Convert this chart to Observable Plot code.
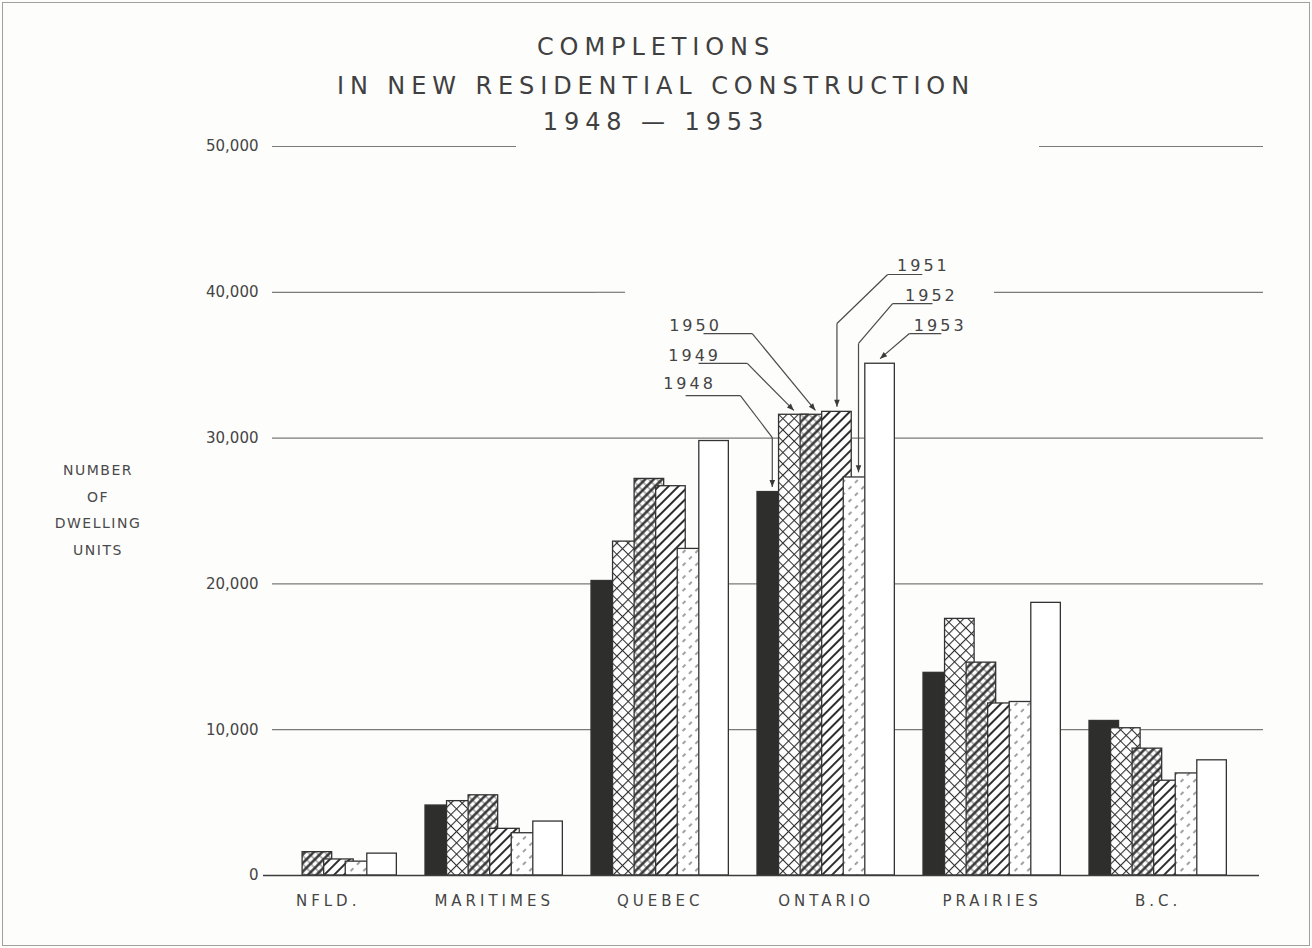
<!DOCTYPE html>
<html>
<head>
<meta charset="utf-8">
<script src="https://cdn.jsdelivr.net/npm/d3@7"></script>
<script src="https://cdn.jsdelivr.net/npm/@observablehq/plot@0.6"></script>
<style>
  body { margin: 0; background: #fff; }
  #wrap { position: relative; width: 1312px; height: 948px; background: #fdfdfc; overflow: hidden;
          font-family: "DejaVu Sans", sans-serif; color: #454545; }
  #frame { position: absolute; left: 2px; top: 2px; right: 2px; bottom: 2px; border: 1.5px solid #a0a0a0; pointer-events: none; }
  .tline { position: absolute; left: 0; width: 1312px; text-align: center; font-size: 24px; letter-spacing: 5.9px; line-height: 28px; color: #404040; }
  #ylab { position: absolute; left: 18px; width: 160px; top: 457px; text-align: center; font-size: 14px; letter-spacing: 1.5px; line-height: 26.5px; color: #4a4a4a; }
  #chart { position: absolute; left: 0; top: 135px; }
</style>
</head>
<body>
<div id="wrap">
  <svg width="0" height="0" style="position:absolute">
    <defs>
      <pattern id="p1949" patternUnits="userSpaceOnUse" width="8" height="8" patternTransform="rotate(45)">
        <rect width="8" height="8" fill="#fff"/>
        <path d="M0 0V8M0 0H8" stroke="#2e2e2e" stroke-width="2.2"/>
      </pattern>
      <pattern id="p1950" patternUnits="userSpaceOnUse" width="6" height="6" patternTransform="rotate(45)">
        <rect width="6" height="6" fill="#fff"/>
        <path d="M1.5 0V6" stroke="#2e2e2e" stroke-width="2.4"/>
        <path d="M0 3H6" stroke="#2e2e2e" stroke-width="0.7"/>
      </pattern>
      <pattern id="p1951" patternUnits="userSpaceOnUse" width="7" height="7" patternTransform="rotate(45)">
        <rect width="7" height="7" fill="#fff"/>
        <path d="M2 0V7" stroke="#2e2e2e" stroke-width="2"/>
      </pattern>
      <pattern id="p1952" patternUnits="userSpaceOnUse" width="9" height="9" patternTransform="rotate(45)">
        <rect width="9" height="9" fill="#fff"/>
        <path d="M2 0V4" stroke="#555" stroke-width="1.1"/>
      </pattern>
      <marker id="tri" viewBox="0 0 10 10" refX="10" refY="5" markerWidth="8" markerHeight="7" markerUnits="userSpaceOnUse" orient="auto">
        <path d="M0,1L10,5L0,9z" fill="#3a3a3a"/>
      </marker>
    </defs>
  </svg>
  <div class="tline" style="top:33px">COMPLETIONS</div>
  <div class="tline" style="top:72px">IN NEW RESIDENTIAL CONSTRUCTION</div>
  <div class="tline" style="top:108px">1948 — 1953</div>
  <div id="chart"></div>
  <div id="ylab">NUMBER<br>OF<br>DWELLING<br>UNITS</div>
  <div id="frame"></div>
</div>
<script>
// ---- data ----
const years = [1948, 1949, 1950, 1951, 1952, 1953];
const regions = ["NFLD.", "MARITIMES", "QUEBEC", "ONTARIO", "PRAIRIES", "B.C."];
const nfld      = [null, null, 1600, 1100, 950, 1500];
const maritimes = [4800, 5100, 5500, 3200, 2900, 3700];
const quebec    = [20200, 22900, 27200, 26700, 22400, 29800];
const ontario   = [26300, 31600, 31600, 31800, 27300, 35100];
const prairies  = [13900, 17600, 14600, 11800, 11900, 18700];
const bc        = [10600, 10100, 8700, 6500, 7000, 7900];
const yTicks = [0, 10000, 20000, 30000, 40000, 50000];

// ---- styles per year ----
const fills = ["#2e2f2c", "url(#p1949)", "url(#p1950)", "url(#p1951)", "url(#p1952)", "#ffffff"];

const series = [nfld, maritimes, quebec, ontario, prairies, bc];
const table = regions.flatMap((r, i) => years.map((y, j) => ({region: r, year: y, value: series[i][j]})))
  .filter(d => d.value != null);

// ---- callout layout (data units, Ontario group) ----
const callouts = [
  {year: 1948, label: [1944.66, 33740], path: [[1944.48, 32920], [1947.02, 32920], [1948.5, 30040], [1948.5, 26650]]},
  {year: 1949, label: [1944.90, 35670], path: [[1945.08, 35120], [1947.34, 35120], [1949.5, 31900]]},
  {year: 1950, label: [1944.94, 37720], path: [[1945.31, 37170], [1947.57, 37170], [1950.5, 31900]]},
  {year: 1951, label: [1955.51, 41840], path: [[1955.46, 41220], [1953.85, 41220], [1951.5, 37860], [1951.5, 32150]]},
  {year: 1952, label: [1955.88, 39780], path: [[1955.93, 39230], [1954.08, 39230], [1952.5, 36490], [1952.5, 27650]]},
  {year: 1953, label: [1956.29, 37720], path: [[1956.34, 37170], [1954.86, 37170], [1953.5, 35450]]}
];
const segs = callouts.flatMap(c => c.path.slice(1).map((p, k) => ({
  region: "ONTARIO", x1: c.path[k][0], y1: c.path[k][1], x2: p[0], y2: p[1], last: k === c.path.length - 2
})));
const labelRows = callouts.map(c => ({region: "ONTARIO", x: c.label[0], y: c.label[1], text: String(c.year)}));
const regionRows = regions.map(r => ({region: r, x: 1951, y: 0}));

const gridStroke = "#7a7a7a";
const grid = (region, vals, opts = {}) =>
  Plot.ruleY(vals.map(v => ({region, v})), {fx: "region", y: "v", stroke: gridStroke, strokeWidth: 1.2, ...opts});

const chart = Plot.plot({
  width: 1312,
  height: 800,
  marginLeft: 261,
  marginRight: 51,
  marginTop: 11,
  marginBottom: 60,
  style: {fontFamily: "'DejaVu Sans', sans-serif", fontSize: "15px", color: "#454545", background: "transparent"},
  fx: {domain: regions, padding: 0, axis: null},
  x: {domain: [1948, 1955.7], axis: null},
  y: {domain: [0, 50000], ticks: yTicks, tickFormat: d3.format(","), tickSize: 0, tickPadding: 5, label: null},
  color: {type: "ordinal", domain: years, range: fills},
  marks: [
    grid("NFLD.", [10000, 20000, 30000, 40000, 50000], {insetLeft: 9}),
    grid("MARITIMES", [10000, 20000, 30000, 40000]),
    grid("MARITIMES", [50000], {insetRight: 79}),
    grid("QUEBEC", [10000, 20000, 30000]),
    grid("QUEBEC", [40000], {insetRight: 136}),
    grid("ONTARIO", [10000, 20000, 30000]),
    grid("PRAIRIES", [10000, 20000, 30000]),
    grid("PRAIRIES", [40000], {insetLeft: 67}),
    grid("PRAIRIES", [50000], {insetLeft: 112}),
    grid("B.C.", [10000, 20000, 30000, 40000, 50000], {insetRight: -4}),
    Plot.rectY(table, {
      fx: "region", x: "year", interval: 1, y: "value",
      fill: "year", stroke: "#333", strokeWidth: 1.3,
      insetLeft: -4, insetRight: -4
    }),
    Plot.ruleY([0], {stroke: "#3c3c3c", strokeWidth: 1.6}),
    Plot.link(segs.filter(d => !d.last), {
      fx: "region", x1: "x1", y1: "y1", x2: "x2", y2: "y2",
      stroke: "#4a4a4a", strokeWidth: 1.2
    }),
    Plot.link(segs.filter(d => d.last), {
      fx: "region", x1: "x1", y1: "y1", x2: "x2", y2: "y2",
      stroke: "#4a4a4a", strokeWidth: 1.2, markerEnd: "arrow"
    }),
    Plot.text(labelRows, {
      fx: "region", x: "x", y: "y", text: "text",
      fontSize: 16, fill: "#444"
    }),
    Plot.text(regionRows, {
      fx: "region", x: "x", y: "y", dy: 26, text: "region",
      fontSize: 15, fill: "#454545"
    })
  ]
});

// arrowheads: filled triangles
chart.querySelectorAll('g[aria-label="link"] path[marker-end]').forEach(p => p.setAttribute("marker-end", "url(#tri)"));
// letter spacing for lettering-style labels
const textGroups = chart.querySelectorAll('g[aria-label="text"]');
if (textGroups[0]) textGroups[0].style.letterSpacing = "3px";
if (textGroups[1]) textGroups[1].style.letterSpacing = "4px";
document.getElementById("chart").appendChild(chart);
</script>
</body>
</html>
